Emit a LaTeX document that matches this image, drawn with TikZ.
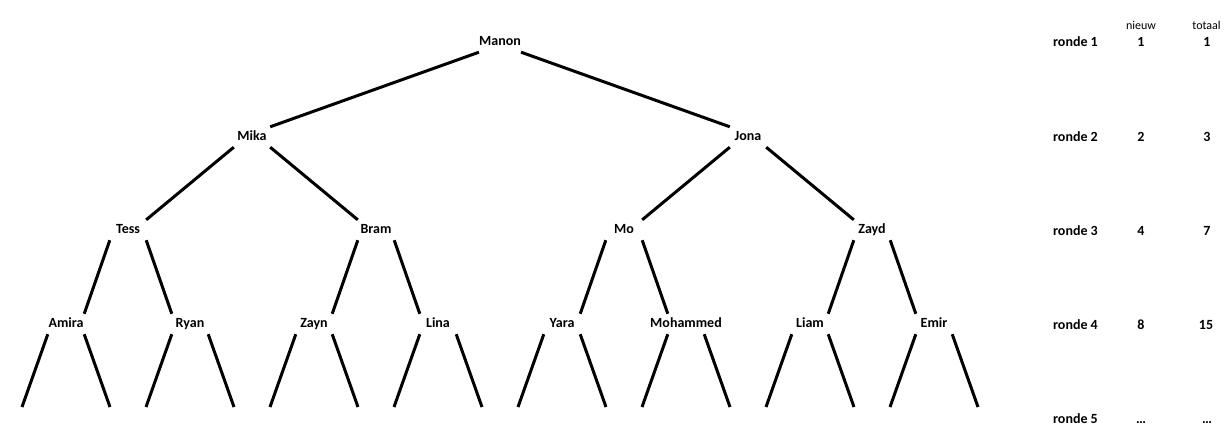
\documentclass[tikz,border=0pt]{standalone}
\usepackage{fontspec}
\setmainfont{Carlito}
\usepackage{tikz}
\usetikzlibrary{positioning}

\begin{document}
\begin{tikzpicture}[
  x=1pt, y=-1pt,
  person/.style={minimum width=36pt, minimum height=20pt, inner sep=0pt,
    text height=10pt, text depth=3pt, font=\fontsize{14pt}{16pt}\selectfont\bfseries},
  link/.style={line width=3pt},
  rnd/.style={anchor=base, inner sep=0pt, font=\fontsize{14pt}{16pt}\selectfont\bfseries},
  hdr/.style={anchor=base, inner sep=0pt, font=\fontsize{12pt}{14pt}\selectfont},
]
  \useasboundingbox (0,0) rectangle (1230,434);

  \node[person] (manon) at (500,42) {Manon};

  \node[person] (mika) at (252,137) {Mika};
  \node[person] (jona) at (748,137) {Jona};

  \node[person] (tess) at (128,230) {Tess};
  \node[person] (bram) at (376,230) {Bram};
  \node[person] (mo)   at (624,230) {Mo};
  \node[person] (zayd) at (872,230) {Zayd};

  \node[person] (amira)    at (66,324)  {Amira};
  \node[person] (ryan)     at (190,324) {Ryan};
  \node[person] (zayn)     at (314,324) {Zayn};
  \node[person] (lina)     at (438,324) {Lina};
  \node[person] (yara)     at (562,324) {Yara};
  \node[person] (mohammed) at (686,324) {\makebox[0pt]{Mohammed}};
  \node[person] (liam)     at (810,324) {Liam};
  \node[person] (emir)     at (934,324) {Emir};

  \coordinate (amira-l) at (22,407);
  \coordinate (amira-r) at (110,407);
  \coordinate (ryan-l) at (146,407);
  \coordinate (ryan-r) at (234,407);
  \coordinate (zayn-l) at (270,407);
  \coordinate (zayn-r) at (358,407);
  \coordinate (lina-l) at (394,407);
  \coordinate (lina-r) at (482,407);
  \coordinate (yara-l) at (518,407);
  \coordinate (yara-r) at (606,407);
  \coordinate (mohammed-l) at (642,407);
  \coordinate (mohammed-r) at (730,407);
  \coordinate (liam-l) at (766,407);
  \coordinate (liam-r) at (854,407);
  \coordinate (emir-l) at (890,407);
  \coordinate (emir-r) at (978,407);

  \draw[link] (manon.south west) -- (mika.north east);
  \draw[link] (manon.south east) -- (jona.north west);

  \draw[link] (mika.south west) -- (tess.north east);
  \draw[link] (mika.south east) -- (bram.north west);
  \draw[link] (jona.south west) -- (mo.north east);
  \draw[link] (jona.south east) -- (zayd.north west);

  \draw[link] (tess.south west) -- (amira.north east);
  \draw[link] (tess.south east) -- (ryan.north west);
  \draw[link] (bram.south west) -- (zayn.north east);
  \draw[link] (bram.south east) -- (lina.north west);
  \draw[link] (mo.south west) -- (yara.north east);
  \draw[link] (mo.south east) -- (mohammed.north west);
  \draw[link] (zayd.south west) -- (liam.north east);
  \draw[link] (zayd.south east) -- (emir.north west);

  \draw[link] (amira.south west) -- (amira-l);
  \draw[link] (amira.south east) -- (amira-r);
  \draw[link] (ryan.south west) -- (ryan-l);
  \draw[link] (ryan.south east) -- (ryan-r);
  \draw[link] (zayn.south west) -- (zayn-l);
  \draw[link] (zayn.south east) -- (zayn-r);
  \draw[link] (lina.south west) -- (lina-l);
  \draw[link] (lina.south east) -- (lina-r);
  \draw[link] (yara.south west) -- (yara-l);
  \draw[link] (yara.south east) -- (yara-r);
  \draw[link] (mohammed.south west) -- (mohammed-l);
  \draw[link] (mohammed.south east) -- (mohammed-r);
  \draw[link] (liam.south west) -- (liam-l);
  \draw[link] (liam.south east) -- (liam-r);
  \draw[link] (emir.south west) -- (emir-l);
  \draw[link] (emir.south east) -- (emir-r);

  \node[hdr] (nieuw)  at (1141,29) {nieuw};
  \node[hdr] (totaal) at (1206.5,29) {totaal};

  \node[rnd] (r1) at (1075.5,46) {ronde 1};
  \node[rnd] (n1) at (1141,46) {1};
  \node[rnd] (t1) at (1207,46) {1};
  \node[rnd] (r2) at (1075.5,141) {ronde 2};
  \node[rnd] (n2) at (1141,141) {2};
  \node[rnd] (t2) at (1207,141) {3};
  \node[rnd] (r3) at (1075.5,235) {ronde 3};
  \node[rnd] (n3) at (1141,235) {4};
  \node[rnd] (t3) at (1207,235) {7};
  \node[rnd] (r4) at (1075.5,329) {ronde 4};
  \node[rnd] (n4) at (1141,329) {8};
  \node[rnd] (t4) at (1206,329) {15};
  \node[rnd] (r5) at (1075.5,423) {ronde 5};
  \node[rnd] (n5) at (1141,423) {…};
  \node[rnd] (t5) at (1207,423) {…};
\end{tikzpicture}
\end{document}
